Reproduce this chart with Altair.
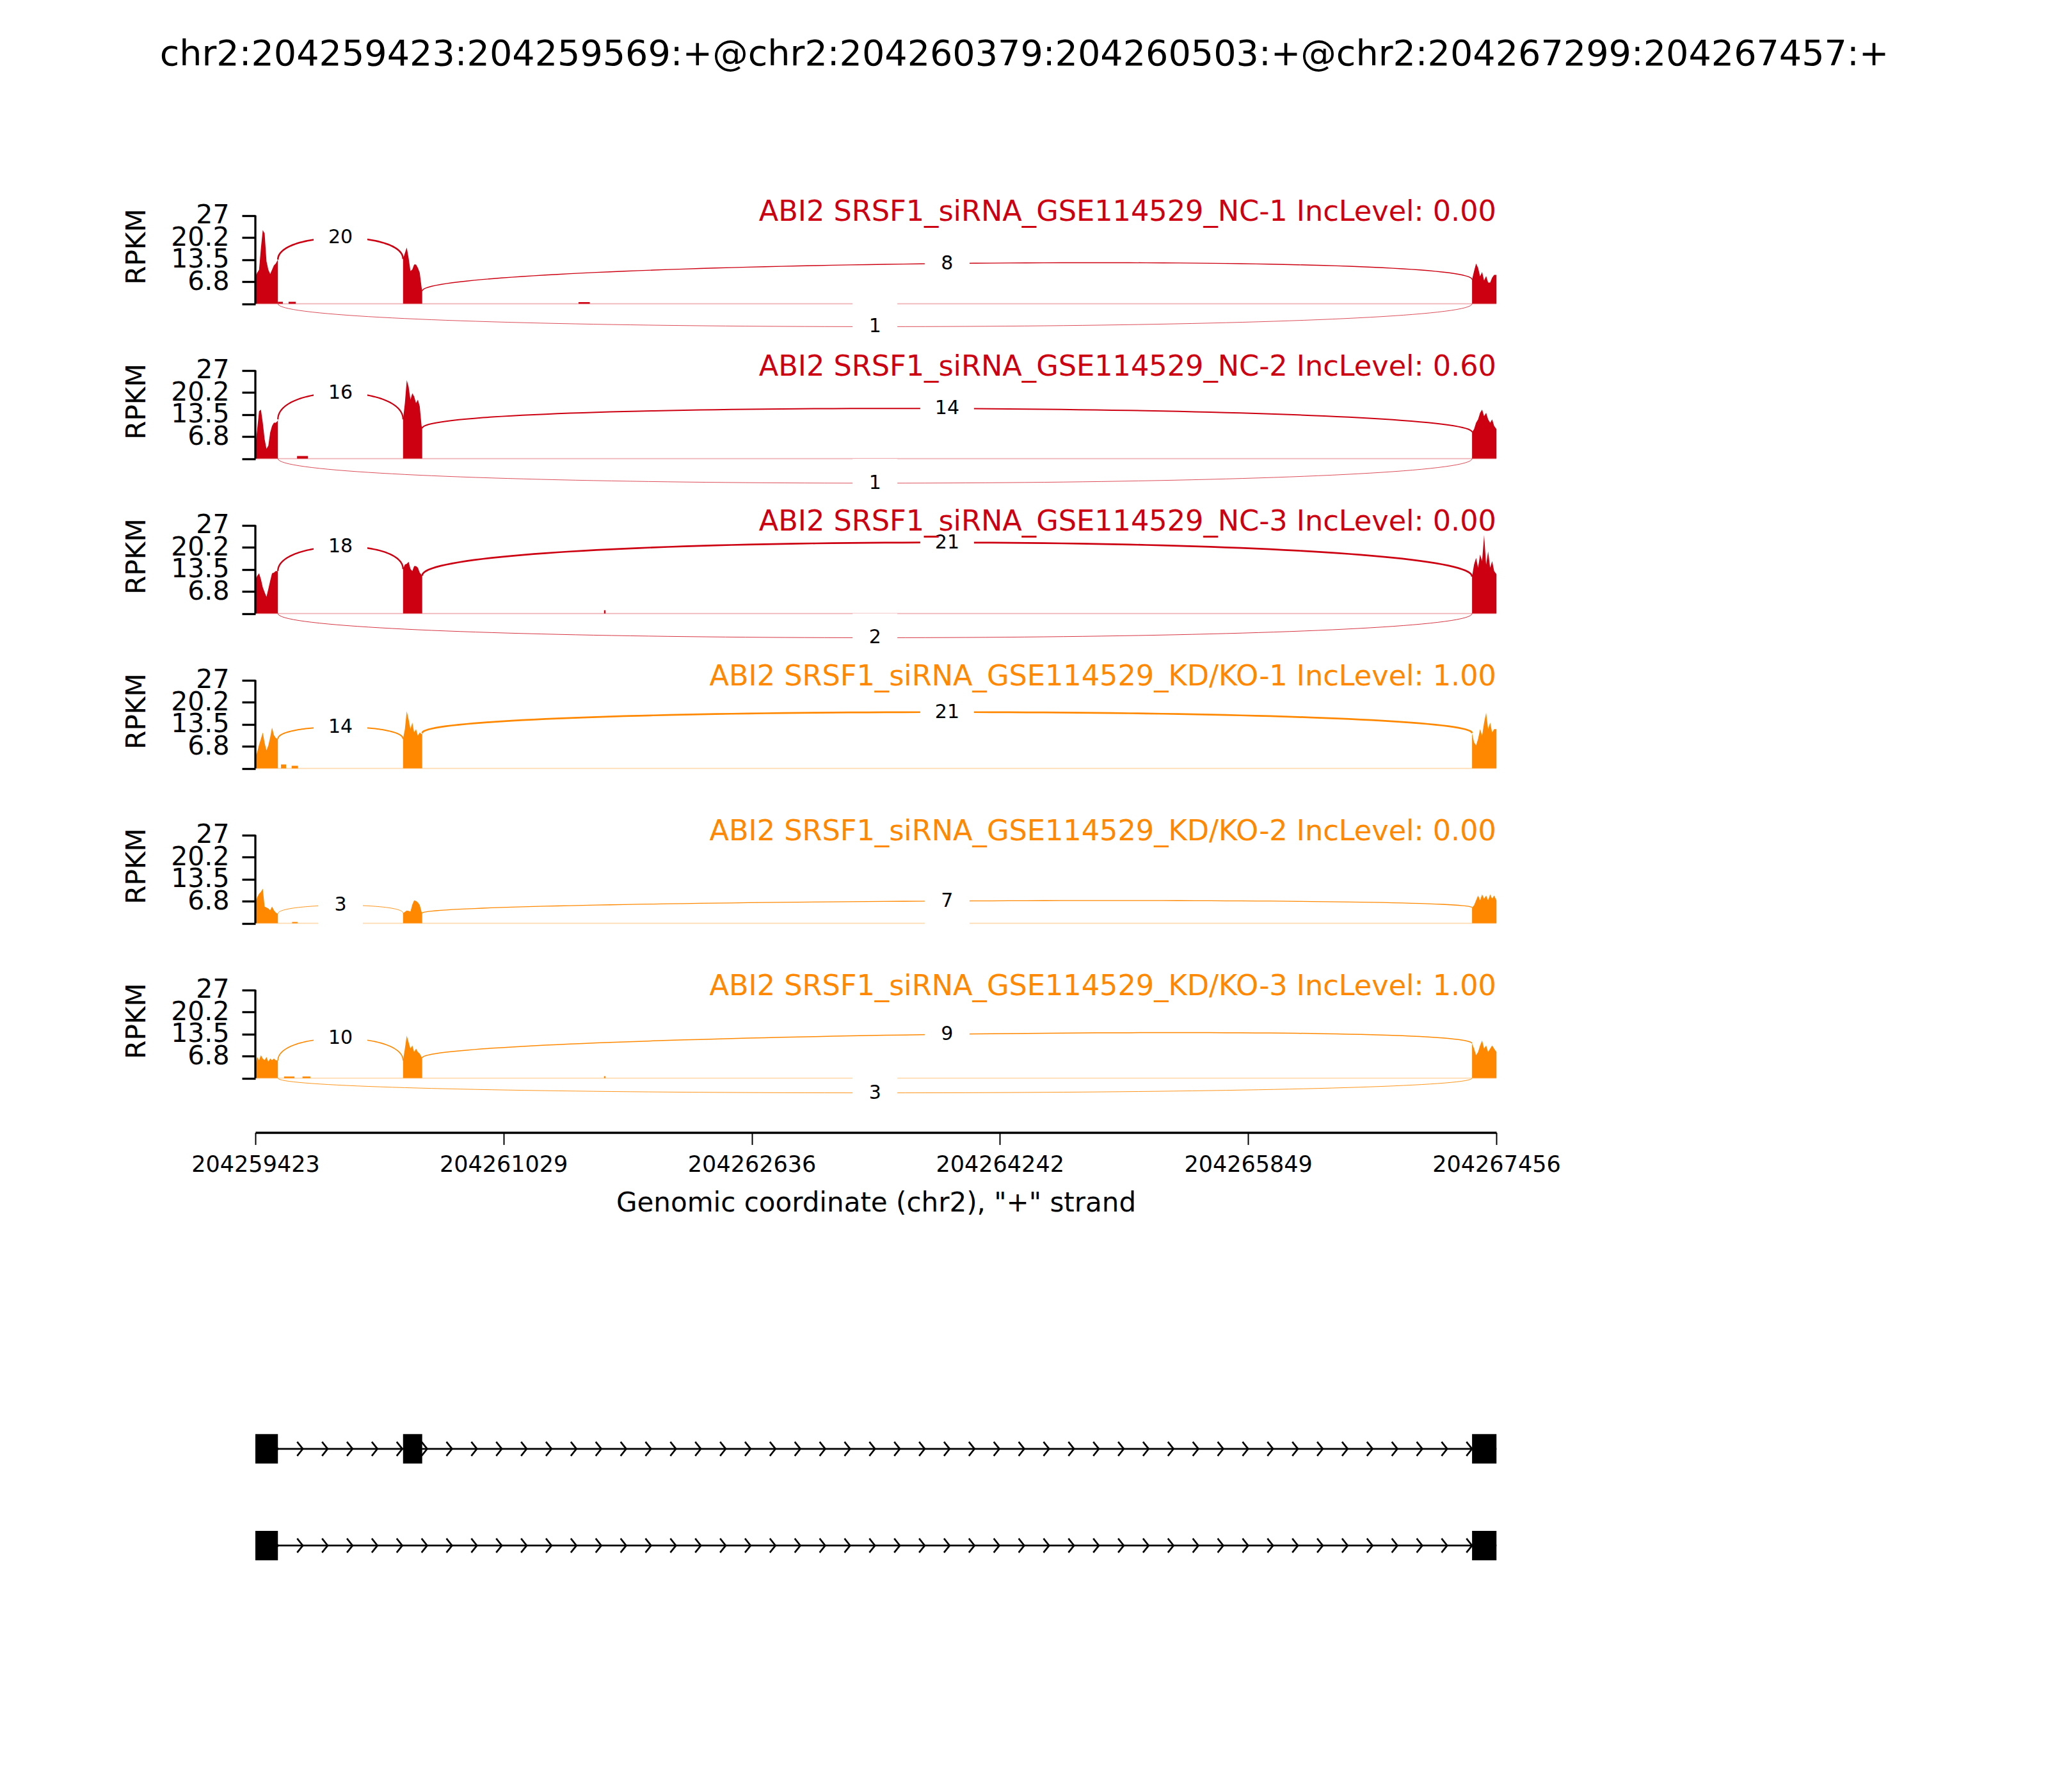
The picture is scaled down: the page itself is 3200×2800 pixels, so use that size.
import altair as alt
import numpy as np
import pandas as pd

# ---------------- data ----------------
TITLE = "chr2:204259423:204259569:+@chr2:204260379:204260503:+@chr2:204267299:204267457:+"
X_MIN, X_MAX = 204259423, 204267456
X_TICKS = [204259423, 204261029, 204262636, 204264242, 204265849, 204267456]
Y_TICKS = [0, 6.75, 13.5, 20.25, 27]
Y_TICK_LABELS = ["", "6.8", "13.5", "20.2", "27"]
X_TITLE = 'Genomic coordinate (chr2), "+" strand'

EXON_STARTS = [204259423, 204260379, 204267299]
EXON_ENDS = [204259569, 204260503, 204267457]

SAMPLES = ["NC-1", "NC-2", "NC-3", "KD/KO-1", "KD/KO-2", "KD/KO-3"]
INC_LEVELS = ["0.00", "0.60", "0.00", "1.00", "0.00", "1.00"]
COLORS = ["#CC0011", "#CC0011", "#CC0011", "#FF8800", "#FF8800", "#FF8800"]

EX1_POS = [204259423, 204259435, 204259447, 204259459, 204259471, 204259483, 204259495,
           204259507, 204259519, 204259531, 204259543, 204259555, 204259567, 204259569]
EX2_POS = [204260379, 204260391, 204260403, 204260415, 204260427, 204260439,
           204260451, 204260463, 204260475, 204260487, 204260499, 204260503]
EX3_POS = [204267299, 204267312, 204267325, 204267338, 204267351, 204267364, 204267377,
           204267390, 204267403, 204267416, 204267429, 204267442, 204267457]

COV_EX1 = [
    [8.4, 9.5, 10.4, 17, 22.5, 21.5, 13, 10.4, 9.1, 10.4, 11.7, 12.3, 13.3, 13.5],
    [4, 9, 14.5, 15, 11, 6, 3, 4, 8, 10, 11, 11, 11.5, 12],
    [10.4, 11.5, 12.3, 10.5, 8, 6.5, 5.1, 7.5, 10, 12.3, 12.5, 13, 13, 13],
    [3.5, 5, 7.2, 9, 11, 7.8, 5.5, 7, 9.5, 12.5, 10.2, 9.3, 9, 9],
    [6.3, 8, 9, 9.6, 10.6, 5.1, 4.8, 4.5, 4, 5.1, 4, 3.3, 2.9, 2.9],
    [4, 6.5, 5.5, 7, 6, 5.5, 6.5, 5, 6, 5.5, 6, 5.5, 5.4, 5.4],
]
COV_EX2 = [
    [13.7, 15.5, 17.2, 14, 10, 10.5, 12, 12, 11, 9.5, 5, 3.9],
    [12, 17, 24, 22, 18, 20, 19, 17, 18, 16, 10, 9.3],
    [13.6, 15, 15.2, 15.8, 13.6, 13, 14.5, 14.5, 14, 12.5, 11.8, 11.6],
    [9, 12, 17.5, 15, 12, 14, 11, 12, 10, 11, 10.5, 10.8],
    [3.1, 3.5, 3.9, 3.8, 3.6, 5.7, 7, 6.8, 6.4, 5.6, 3.5, 3.1],
    [5.4, 9, 13, 11, 9, 10, 8, 9, 8, 7.5, 6.5, 6.2],
]
COV_EX3 = [
    [7.4, 10, 12.3, 11, 8.4, 9.7, 7.1, 8.5, 6.5, 6.5, 8, 8.8, 8.8],
    [8.1, 9, 11, 12, 14, 15, 13, 14, 12, 11, 12, 10, 9],
    [11.3, 15, 17, 14, 18, 16, 24, 15, 19, 14, 16, 13, 12],
    [10.8, 8, 7, 9, 12, 10, 14, 17, 12, 14, 11, 12, 12],
    [4.8, 5.5, 7, 8.5, 7, 8.8, 7.5, 8.5, 7, 8.8, 7.5, 8.5, 7],
    [10.6, 9, 7, 8, 10, 11.5, 9, 10, 8, 9, 10, 9, 8],
]
# small intronic coverage blocks: (start, end, height)
INTRON_BLIPS = [
    [(204259569, 204259601, 0.6), (204259638, 204259685, 0.6), (204261515, 204261588, 0.5)],
    [(204259693, 204259763, 0.8)],
    [(204261680, 204261690, 1.0)],
    [(204259589, 204259622, 1.2), (204259658, 204259699, 0.8)],
    [(204259661, 204259696, 0.4)],
    [(204259609, 204259676, 0.5), (204259728, 204259779, 0.5), (204261680, 204261690, 0.6)],
]

JUNC_LEFT = [204259569, 204260503, 204259569]
JUNC_RIGHT = [204260379, 204267299, 204267299]
JUNC_COUNTS = [[20, 8, 1], [16, 14, 1], [18, 21, 2], [14, 21, 0], [3, 7, 0], [10, 9, 3]]
JUNC_LABEL_Y = [[20.2, 12.3, -7.0], [20.1, 15.3, -7.5], [20.5, 21.7, -7.4],
                [12.7, 17.2, 0], [5.5, 6.8, 0], [12.2, 13.4, -4.5]]

TRACK_EXONS = [[0, 1, 2], [0, 2]]
TRACK_Y = [2, 1]

# ---------------- layout / style ----------------
FONT = "DejaVu Sans"
PLOT_W = 1939
PX_PER_UNIT = 138 / 27
Y_HI = 33.77
Y_LO = -13.5
Y_LO_LAST = -16.6
GENE_Y_HI = 5.235
GENE_H = 801

x_scale = alt.Scale(domain=[X_MIN, X_MAX], nice=False, zero=False)

label_expr = " : ".join(
    [f"datum.value == {v} ? '{l}'" for v, l in zip(Y_TICKS, Y_TICK_LABELS)] + ["''"]
)

y_axis = alt.Axis(
    values=Y_TICKS, labelExpr=label_expr, domain=False, grid=False,
    tickSize=21, tickWidth=3.3, tickColor="black",
    labelFont=FONT, labelFontSize=41, labelColor="black", labelPadding=20,
    labelOverlap=False, labelBound=False,
    title="RPKM", titleFont=FONT, titleFontSize=42, titleFontWeight="normal",
    titleColor="black", titleAngle=270, titleX=-173, titleY=83,
    titleAlign="center", titleBaseline="alphabetic",
)

x_axis_last = alt.Axis(
    values=X_TICKS, format="d", domain=True, domainColor="black", domainWidth=3.5,
    grid=False, tickSize=19, tickWidth=2, tickColor="black",
    labelFont=FONT, labelFontSize=35, labelColor="black", labelPadding=14,
    labelFlush=False, labelOverlap=False, labelBound=False, labelLimit=1000,
    title=X_TITLE, titleFont=FONT, titleFontSize=42, titleFontWeight="normal",
    titleColor="black", titlePadding=22, titleLimit=2000,
)


def bezier(x0, y0, x1, y1, h, n=90):
    t = np.linspace(0, 1, n)
    px = [x0, x0, x1, x1]
    py = [y0, y0 + h, y1 + h, y1]
    b = [(1 - t) ** 3, 3 * (1 - t) ** 2 * t, 3 * (1 - t) * t ** 2, t ** 3]
    xs = sum(bi * p for bi, p in zip(b, px))
    ys = sum(bi * p for bi, p in zip(b, py))
    return xs, ys, t


def panel(i, last=False):
    color = COLORS[i]
    ylo = Y_LO_LAST if last else Y_LO
    y_scale = alt.Scale(domain=[ylo, Y_HI], nice=False, zero=False)
    height = (Y_HI - ylo) * PX_PER_UNIT
    xax = x_axis_last if last else None

    def X(f="x"):
        return alt.X(f"{f}:Q", scale=x_scale, axis=xax)

    def Y(f="y"):
        return alt.Y(f"{f}:Q", scale=y_scale, axis=y_axis, stack=None)

    # coverage
    rows = []
    for seg, (pos, vals) in enumerate(zip([EX1_POS, EX2_POS, EX3_POS],
                                          [COV_EX1[i], COV_EX2[i], COV_EX3[i]])):
        for p, v in zip(pos, vals):
            rows.append({"x": p, "y": v, "seg": seg})
    for k, (s, e, hgt) in enumerate(INTRON_BLIPS[i]):
        rows.append({"x": s, "y": hgt, "seg": 10 + k})
        rows.append({"x": e, "y": hgt, "seg": 10 + k})
    cov = pd.DataFrame(rows)
    area = alt.Chart(cov).mark_area(color=color, opacity=1, interpolate="linear").encode(
        x=X(), y=Y(), detail="seg:N")

    base = pd.DataFrame({"x": [X_MIN], "x2": [X_MAX], "y": [0]})
    baseline = alt.Chart(base).mark_rule(color=color, strokeWidth=1.6, opacity=0.3).encode(
        x=X(), x2="x2:Q", y=Y())

    spine = pd.DataFrame({"x": [X_MIN], "y": [0], "y2": [27]})
    spine_rule = alt.Chart(spine).mark_rule(color="black", strokeWidth=3.3).encode(
        x=X(), y=Y(), y2="y2:Q")

    # junction arcs
    ends_l = [COV_EX1[i][-1], COV_EX2[i][-1], 0]
    ends_r = [COV_EX2[i][0], COV_EX3[i][0], 0]
    arc_rows, lab_rows = [], []
    for j in range(3):
        cnt = JUNC_COUNTS[i][j]
        if cnt <= 0:
            continue
        L, R, mid = ends_l[j], ends_r[j], JUNC_LABEL_Y[i][j]
        h = (mid - (L + R) / 2) / 0.75
        xs, ys, t = bezier(JUNC_LEFT[j], L, JUNC_RIGHT[j], R, h)
        for a, b, c in zip(xs, ys, t):
            arc_rows.append({"x": a, "y": b, "t": c, "j": j, "w": 0.6 + 0.1 * cnt})
        lab_rows.append({"x": (JUNC_LEFT[j] + JUNC_RIGHT[j]) / 2, "y": mid,
                         "label": str(cnt), "n": len(str(cnt))})
    arcs = alt.Chart(pd.DataFrame(arc_rows)).mark_line(color=color).encode(
        x=X(), y=Y(), detail="j:N", order="t:Q",
        strokeWidth=alt.StrokeWidth("w:Q", scale=None))

    labs = pd.DataFrame(lab_rows)
    box1 = alt.Chart(labs).transform_filter("datum.n == 1").mark_rect(
        color="white", xOffset=-35, x2Offset=35, yOffset=-38, y2Offset=38).encode(
        x=X(), x2="x:Q", y=Y(), y2="y:Q")
    box2 = alt.Chart(labs).transform_filter("datum.n == 2").mark_rect(
        color="white", xOffset=-42, x2Offset=42, yOffset=-38, y2Offset=38).encode(
        x=X(), x2="x:Q", y=Y(), y2="y:Q")
    texts = alt.Chart(labs).mark_text(font=FONT, fontSize=30, color="black",
                                      align="center", baseline="middle").encode(
        x=X(), y=Y(), text="label:N")

    ttl = pd.DataFrame({"x": [X_MAX], "y": [25.4],
                        "label": [f"ABI2 SRSF1_siRNA_GSE114529_{SAMPLES[i]} IncLevel: {INC_LEVELS[i]}"]})
    title = alt.Chart(ttl).mark_text(font=FONT, fontSize=44.6, color=color, align="right",
                                     baseline="alphabetic").encode(
        x=X(), y=Y(), text="label:N")

    return alt.layer(area, baseline, arcs, box1, box2, texts, spine_rule, title).properties(
        width=PLOT_W, height=height)


panels = [panel(i, last=(i == len(SAMPLES) - 1)) for i in range(len(SAMPLES))]

# ---------------- gene model ----------------
g_scale_y = alt.Scale(domain=[0, GENE_Y_HI], nice=False, zero=False)
ex_rows, line_rows, chev_rows = [], [], []
for tr, exs in enumerate(TRACK_EXONS):
    yv = TRACK_Y[tr]
    for e in exs:
        ex_rows.append({"x": EXON_STARTS[e], "x2": EXON_ENDS[e], "y": yv})
    line_rows.append({"x": EXON_STARTS[exs[0]], "x2": EXON_ENDS[exs[-1]], "y": yv})
    for p in np.linspace(EXON_ENDS[0], EXON_STARTS[2], 49):
        chev_rows.append({"x": p, "y": yv})

GX = alt.X("x:Q", scale=x_scale, axis=None)
GY = alt.Y("y:Q", scale=g_scale_y, axis=None)
g_line = alt.Chart(pd.DataFrame(line_rows)).mark_rule(color="black", strokeWidth=2.7).encode(
    x=GX, x2="x2:Q", y=GY)
g_chev = alt.Chart(pd.DataFrame(chev_rows)).mark_point(
    shape="M -0.8 -1 L 0 0 L -0.8 1", filled=False, stroke="black", strokeWidth=2.7,
    size=484, opacity=1).encode(x=GX, y=GY)
g_ex = alt.Chart(pd.DataFrame(ex_rows)).mark_bar(color="black", size=46, orient="horizontal").encode(
    x=GX, x2="x2:Q", y=GY)
gene = alt.layer(g_line, g_chev, g_ex).properties(width=PLOT_W, height=GENE_H)

chart = alt.vconcat(*panels, gene, spacing=0, bounds="flush").properties(
    title=alt.TitleParams(TITLE, font=FONT, fontSize=55.6, fontWeight="normal", color="black",
                          anchor="middle", frame="group", dx=232, offset=188),
    padding={"left": 184, "top": 50, "right": 20, "bottom": 20},
).configure(background="white", view=alt.ViewConfig(stroke=None))

chart.save("out.html", embed_options={"renderer": "svg", "actions": False})
